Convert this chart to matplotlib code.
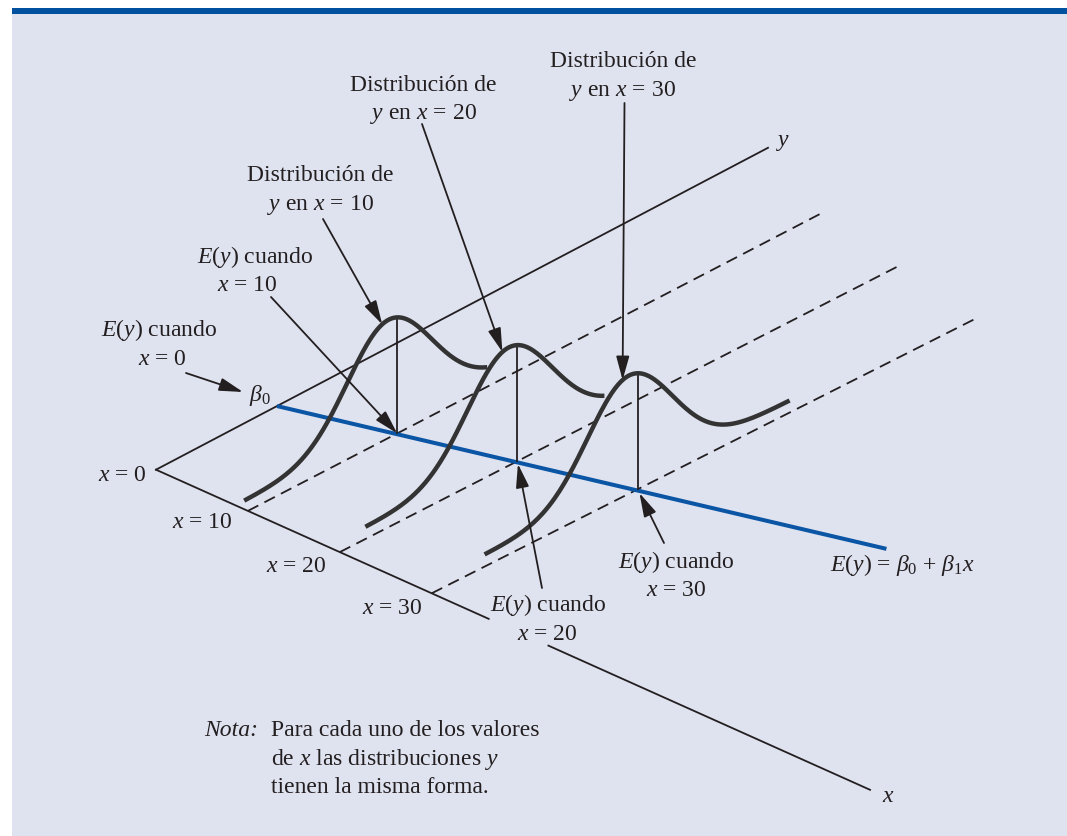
import numpy as np
import matplotlib.pyplot as plt
from matplotlib.patches import Rectangle

plt.rcParams['font.family'] = 'Liberation Serif'
plt.rcParams['mathtext.fontset'] = 'custom'
plt.rcParams['mathtext.rm'] = 'Liberation Serif'
plt.rcParams['mathtext.it'] = 'Liberation Serif:italic'
plt.rcParams['mathtext.bf'] = 'Liberation Serif:bold'

x_levels = [10, 20, 30]
beta0 = 121.0
beta1 = 2.83
x_axis_end = 77.7
x_axis_gap = (36.2, 42.7)
y_axis_len = 612
dash_len = [575, 559, 547]
line_end_x = 50.7
curve_span = [(-153, 90), (-152, 87), (-153, 152)]
peak_h = 118
peak_shift = -8
sd_left, sd_right = 42, 44
tail_h, tail_sd = 12, 50

ink = '#231f20'
bg = '#dfe2ef'
blue = '#0b55a5'
fs = 17


def proj(x, y, z=0):
    # oblique view: x runs down-right, y up-right, z straight up
    x = np.asarray(x, float)
    y = np.asarray(y, float)
    sx = 156.0 + 9.19 * x + y
    sy = 470.7 + 4.12 * x - (0.526 - 0.0007 * x) * y - z
    return sx, sy


def height(d):
    u = d - peak_shift
    sd = np.where(u < 0, sd_left, sd_right)
    return peak_h * np.exp(-u ** 2 / (2 * sd ** 2)) + tail_h * (1 - np.exp(-d ** 2 / (2 * tail_sd ** 2)))


fig = plt.figure(figsize=(10.67, 8.37), dpi=100)
ax = fig.add_axes([0, 0, 1, 1])
ax.set_xlim(0, 1067)
ax.set_ylim(837, 0)
ax.axis('off')
ax.add_patch(Rectangle((12, 9), 1055, 828, fc=bg, ec='none', zorder=0))
ax.add_patch(Rectangle((12, 9), 1055, 6, fc='#0050a0', ec='none', zorder=1))

# axes
ax.plot(*proj([0, 0], [0, y_axis_len]), color=ink, lw=1.3, zorder=2)
ax.plot(*proj([0, x_axis_gap[0]], [0, 0]), color=ink, lw=1.3, zorder=2)
ax.plot(*proj([x_axis_gap[1], x_axis_end], [0, 0]), color=ink, lw=1.3, zorder=2)
for xv, L in zip(x_levels, dash_len):
    ax.plot(*proj([xv, xv], [0, L]), color=ink, lw=1.3, dashes=(6.5, 3.8), zorder=2)

# regression line
xs = np.array([0, line_end_x])
ax.plot(*proj(xs, beta0 + beta1 * xs), color=blue, lw=2.9, solid_capstyle='butt', zorder=3)

means = [beta0 + beta1 * xv for xv in x_levels]
for xv, m, (a, b) in zip(x_levels, means, curve_span):
    d = np.linspace(a, b, 200)
    ax.plot(*proj(xv, m + d, height(d)), color='#333333', lw=3.2, solid_capstyle='butt', zorder=5)
    ax.plot(*proj([xv, xv], [m, m], [0, height(np.array(0.0))]), color=ink, lw=1.3, zorder=4)


def arrow(tail, tip, shrink=0):
    ax.annotate('', xy=tip, xytext=tail, zorder=6,
                arrowprops=dict(arrowstyle='-|>,head_length=1.45,head_width=0.4', mutation_scale=10,
                                lw=1.3, color=ink, shrinkA=0, shrinkB=shrink))


mpts = [proj(xv, m) for xv, m in zip(x_levels, means)]
tips = [proj(xv, m - 15, height(np.array(-15.0))) for xv, m in zip(x_levels, means)]
arrow((186, 374), (243, 393))
arrow((271, 298), mpts[0])
arrow((542, 589), mpts[1], 2)
arrow((664, 544), mpts[2], 3)
arrow((323, 220), tips[0])
arrow((422, 125), tips[1])
arrow((624.5, 104), tips[2])


def txt(x, y, s, ha='center', **kw):
    ax.text(x, y, s, ha=ha, va='baseline', fontsize=fs, color=ink, zorder=7, **kw)


txt(159, 336, '$E(y)$ cuando')
txt(162.5, 365, '$x$ = 0')
txt(255, 263, '$E(y)$ cuando')
txt(247, 291, '$x$ = 10')
txt(320, 181, 'Distribución de')
txt(320, 209.5, '$y$ en $x$ = 10')
txt(423, 90.5, 'Distribución de')
txt(423, 119, '$y$ en $x$ = 20')
txt(623, 67, 'Distribución de')
txt(622.5, 96, '$y$ en $x$ = 30')
txt(548, 611, '$E(y)$ cuando')
txt(547, 639.5, '$x$ = 20')
txt(676.5, 568, '$E(y)$ cuando')
txt(676, 596, '$x$ = 30')
txt(830, 571, r'$E(y)$ = $\beta_0$ + $\beta_1 x$', ha='left')
txt(249, 401, r'$\beta_0$', ha='left')
txt(147, 481, '$x$ = 0', ha='right')
txt(233, 528, '$x$ = 10', ha='right')
txt(327, 572, '$x$ = 20', ha='right')
txt(423, 614.5, '$x$ = 30', ha='right')
txt(776, 146, '$y$', ha='left')
txt(882, 802, '$x$', ha='left')
txt(204, 736, 'Nota:', ha='left', style='italic')
txt(271, 736, 'Para cada uno de los valores', ha='left')
txt(271, 765, 'de $x$ las distribuciones $y$', ha='left')
txt(271, 793.5, 'tienen la misma forma.', ha='left')

fig.savefig('out.png', dpi=100)
